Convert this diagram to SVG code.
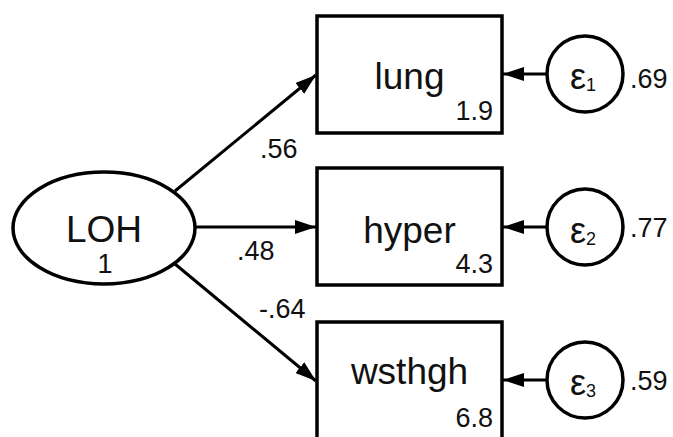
<svg xmlns="http://www.w3.org/2000/svg" width="673" height="437" viewBox="0 0 673 437">
<style>
.shape{fill:#fff;stroke:#000;stroke-width:3.5}
.conn{stroke:#000;stroke-width:3;fill:none}
text{font-family:"Liberation Sans",Arial,sans-serif;fill:#111}
.big{font-size:37px}
.sm{font-size:27px}
.eps{font-size:36px}
.sub{font-size:18px}
</style>
<defs>
<marker id="ah" markerUnits="userSpaceOnUse" markerWidth="22" markerHeight="16" viewBox="0 0 22 16" refX="21" refY="8" orient="auto">
<path d="M0,1 L21,8 L0,15 Z" fill="#000"/>
</marker>
</defs>
<rect width="673" height="437" fill="#fff"/>
<g id="connectors">
<line class="conn" x1="175" y1="191" x2="316" y2="75" marker-end="url(#ah)"/>
<line class="conn" x1="195" y1="227" x2="316" y2="227" marker-end="url(#ah)"/>
<line class="conn" x1="175" y1="264" x2="316" y2="381" marker-end="url(#ah)"/>
<line class="conn" x1="547" y1="74" x2="503" y2="74" marker-end="url(#ah)"/>
<line class="conn" x1="547" y1="227" x2="503" y2="227" marker-end="url(#ah)"/>
<line class="conn" x1="547" y1="380" x2="503" y2="380" marker-end="url(#ah)"/>
<text class="sm" x="260" y="158">.56</text>
<text class="sm" x="237" y="260">.48</text>
<text class="sm" x="259" y="318">-.64</text>
</g>
<g id="LOH">
<ellipse class="shape" cx="104" cy="228" rx="91" ry="56"/>
<text class="big" x="104" y="242" text-anchor="middle">LOH</text>
<text class="sm" x="105" y="273" text-anchor="middle">1</text>
</g>
<g id="lung">
<rect class="shape" x="317" y="16" width="185" height="117"/>
<text class="big" x="409.5" y="89" text-anchor="middle">lung</text>
<text class="sm" x="493" y="120" text-anchor="end">1.9</text>
</g>
<g id="hyper">
<rect class="shape" x="317" y="168" width="185" height="117"/>
<text class="big" x="409.5" y="243" text-anchor="middle">hyper</text>
<text class="sm" x="493" y="273" text-anchor="end">4.3</text>
</g>
<g id="wsthgh">
<rect class="shape" x="317" y="322" width="185" height="118"/>
<text class="big" x="409.5" y="384" text-anchor="middle">wsthgh</text>
<text class="sm" x="493" y="427" text-anchor="end">6.8</text>
</g>
<g id="e1">
<circle class="shape" cx="585" cy="74" r="38"/>
<text x="570" y="89"><tspan class="eps">ε</tspan><tspan class="sub" dy="2">1</tspan></text>
<text class="sm" x="630" y="88">.69</text>
</g>
<g id="e2">
<circle class="shape" cx="585" cy="227" r="38"/>
<text x="570" y="243"><tspan class="eps">ε</tspan><tspan class="sub" dy="2">2</tspan></text>
<text class="sm" x="630" y="237">.77</text>
</g>
<g id="e3">
<circle class="shape" cx="585" cy="380" r="38"/>
<text x="570" y="395"><tspan class="eps">ε</tspan><tspan class="sub" dy="2">3</tspan></text>
<text class="sm" x="630" y="390">.59</text>
</g>
</svg>
